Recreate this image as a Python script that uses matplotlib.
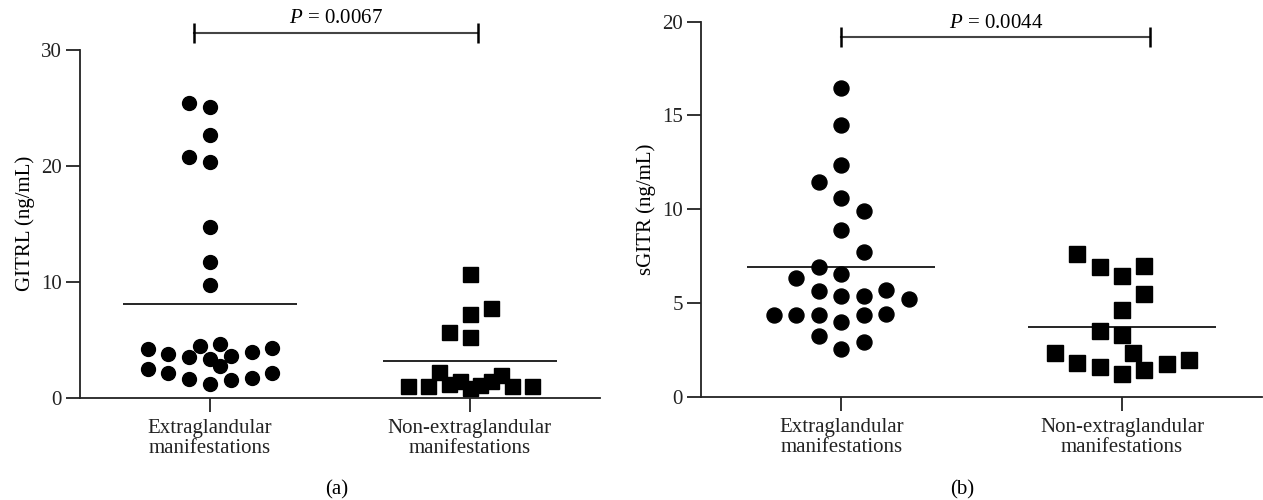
import numpy as np
import matplotlib
matplotlib.use("Agg")
import matplotlib.pyplot as plt

plt.rcParams['font.family'] = ['Liberation Serif', 'DejaVu Serif']
plt.rcParams['mathtext.fontset'] = 'custom'
plt.rcParams['mathtext.rm'] = 'Liberation Serif'
plt.rcParams['mathtext.it'] = 'Liberation Serif:italic'

# categorias
groups = ['Extraglandular\nmanifestations', 'Non-extraglandular\nmanifestations']

# (a) GITRL
gitrl_extra = [25.4, 25.1, 22.7, 20.8, 20.3, 14.7, 11.7, 9.7,
               4.2, 3.8, 3.5, 4.5, 3.3, 4.6, 3.6, 3.9, 4.3,
               2.5, 2.1, 1.6, 1.2, 2.7, 1.5, 1.7, 2.1]
gitrl_extra_slot = [-1, 0, 0, -1, 0, 0, 0, 0,
                    -3, -2, -1, -0.5, 0, 0.5, 1, 2, 3,
                    -3, -2, -1, 0, 0.5, 1, 2, 3]
gitrl_non = [10.7, 7.7, 7.2, 5.7, 5.2,
             1.0, 1.0, 2.2, 1.2, 1.4, 0.8, 1.1, 1.4, 2.0, 1.0, 1.0]
gitrl_non_slot = [0, 1, 0, -1, 0,
                  -3, -2, -1.5, -1, -0.5, 0, 0.5, 1, 1.5, 2, 3]

# (b) sGITR
sgitr_extra = [16.45, 14.5, 12.35, 11.45, 10.6, 9.9, 8.9, 7.7, 6.9, 6.35,
               6.55, 5.65, 5.35, 5.35, 5.7, 5.2, 4.35, 4.35, 4.35, 4.0,
               4.35, 4.4, 3.25, 2.9, 2.55]
sgitr_extra_slot = [0, 0, 0, -1, 0, 1, 0, 1, -1, -2,
                    0, -1, 0, 1, 2, 3, -3, -2, -1, 0,
                    1, 2, -1, 1, 0]
sgitr_non = [7.6, 6.9, 6.45, 6.95, 5.5, 4.6, 3.5, 3.3,
             2.35, 2.35, 1.8, 1.6, 1.2, 1.45, 1.75, 1.95]
sgitr_non_slot = [-2, -1, 0, 1, 1, 0, -1, 0,
                  0.5, -3, -2, -1, 0, 1, 2, 3]

p_a = 0.0067
p_b = 0.0044

fig = plt.figure(figsize=(12.63, 5.0), dpi=100)
ax_a = fig.add_axes([0.0633, 0.2046, 0.4117, 0.6954])
ax_b = fig.add_axes([0.555, 0.2066, 0.4445, 0.75])

slot_w = 0.08
fs = 15


def dibujar(ax, ext, ext_slot, non, non_slot, ms_c, ms_s):
    x1 = 0 + np.array(ext_slot) * slot_w
    x2 = 1 + np.array(non_slot) * slot_w
    ax.plot(x1, ext, 'o', color='black', markersize=ms_c, clip_on=False, zorder=3)
    ax.plot(x2, non, 's', color='black', markersize=ms_s, clip_on=False, zorder=3)
    # medias
    ax.hlines(np.mean(ext), -0.335, 0.335, color='black', lw=1.2, zorder=2)
    ax.hlines(np.mean(non), 1 - 0.335, 1 + 0.335, color='black', lw=1.2, zorder=2)
    ax.set_xlim(-0.5, 1.5)
    ax.set_xticks([0, 1])
    ax.set_xticklabels(groups, fontsize=fs, linespacing=1.12)
    for s in ['top', 'right']:
        ax.spines[s].set_visible(False)
    for s in ['left', 'bottom']:
        ax.spines[s].set_linewidth(1.3)
        ax.spines[s].set_color('#222222')
    ax.tick_params(direction='out', length=10, width=1.3, colors='#222222',
                   labelsize=fs, pad=3)
    ax.tick_params(axis='x', pad=5)


def bracket(ax, x0, x1, y, p):
    ax.plot([x0, x1], [y, y], color='#444444', lw=1.5, clip_on=False)
    ax.plot([x0, x1], [y, y], '|', color='black', markersize=15,
            markeredgewidth=1.8, clip_on=False)
    ax.annotate('$P$ = %.4f' % p, ((x0 + x1) / 2, y), xytext=(0, 3),
                textcoords='offset points', ha='center', va='bottom',
                fontsize=fs, annotation_clip=False)


dibujar(ax_a, gitrl_extra, gitrl_extra_slot, gitrl_non, gitrl_non_slot, 10, 10.8)
ax_a.set_ylim(0, 30)
ax_a.set_yticks([0, 10, 20, 30])
ax_a.set_ylabel('GITRL (ng/mL)', fontsize=fs, labelpad=4)
bracket(ax_a, -0.06, 1.03, 31.5, p_a)

dibujar(ax_b, sgitr_extra, sgitr_extra_slot, sgitr_non, sgitr_non_slot, 10.8, 11.5)
ax_b.set_ylim(0, 20)
ax_b.set_yticks([0, 5, 10, 15, 20])
ax_b.set_ylabel('sGITR (ng/mL)', fontsize=fs, labelpad=4)
bracket(ax_b, 0.0, 1.1, 19.17, p_b)

fig.text(337 / 1263, 1 - 490 / 500, '(a)', ha='center', va='center', fontsize=fs)
fig.text(962 / 1263, 1 - 490 / 500, '(b)', ha='center', va='center', fontsize=fs)

fig.savefig('out.png', dpi=100)
